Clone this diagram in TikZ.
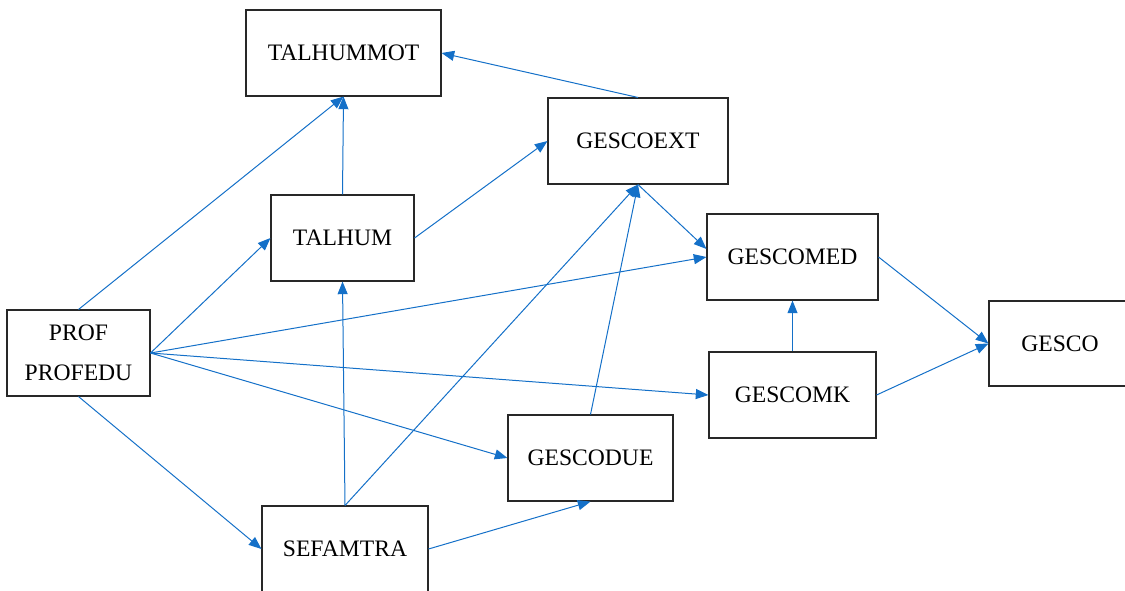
\documentclass[tikz,border=0pt]{standalone}
\usepackage{fontspec}
\setmainfont{Liberation Serif}
\usetikzlibrary{arrows.meta}
\definecolor{linkblue}{RGB}{20,112,200}
\definecolor{boxline}{RGB}{40,40,40}
\tikzset{
  var/.style={draw=boxline, line width=0.8pt, fill=white, inner sep=0pt,
    font=\fontsize{17.7}{30}\selectfont, align=center},
  link/.style={draw=linkblue, line width=0.75pt,
    -{Triangle[length=9.5pt,width=7.5pt]}},
}
% box from its pixel corners (x1,y1)-(x2,y2)
\newcommand\varbox[6]{%
  \node[var, minimum width={(#4-#2)*0.75pt}, minimum height={(#5-#3)*0.75pt}]
    (#1) at ({(#2+#4)/2},{(#3+#5)/2}) {#6};}
\begin{document}
\begin{tikzpicture}[x=0.75pt,y=-0.75pt]
\useasboundingbox (0,0) rectangle (1125,590);
\begin{scope}
\clip (0,0) rectangle (1125,590);
\varbox{talhummot}{246}{10}{441}{96}{TALHUMMOT}
\varbox{gescoext}{548}{98}{728}{184}{GESCOEXT}
\varbox{talhum}{271}{195}{414}{281}{TALHUM}
\varbox{gescomed}{707}{214}{878}{300}{GESCOMED}
\varbox{prof}{7}{310}{150}{396}{PROF\\PROFEDU}
\varbox{gesco}{989}{301}{1131}{386}{GESCO}
\varbox{gescomk}{709}{352}{876}{438}{GESCOMK}
\varbox{gescodue}{508}{415}{673}{501}{GESCODUE}
\varbox{sefamtra}{262}{506}{428}{592}{SEFAMTRA}

\draw[link] (prof.north) -- (talhummot.south);
\draw[link] (talhum.north) -- (talhummot.south);
\draw[link] (gescoext.north) -- (talhummot.east);
\draw[link] (talhum.east) -- (gescoext.west);
\draw[link] (prof.east) -- (talhum.west);
\draw[link] (prof.east) -- (gescomed.west);
\draw[link] (prof.east) -- (gescomk.west);
\draw[link] (prof.east) -- (gescodue.west);
\draw[link] (prof.south) -- (sefamtra.west);
\draw[link] (sefamtra.north) -- (talhum.south);
\draw[link] (sefamtra.north) -- (gescoext.south);
\draw[link] (gescodue.north) -- (gescoext.south);
\draw[link] (sefamtra.east) -- (gescodue.south);
\draw[link] (gescoext.south) -- ([yshift=6]gescomed.west);
\draw[link] (gescomk.north) -- (gescomed.south);
\draw[link] (gescomed.east) -- (gesco.west);
\draw[link] (gescomk.east) -- (gesco.west);
\end{scope}
\end{tikzpicture}
\end{document}
